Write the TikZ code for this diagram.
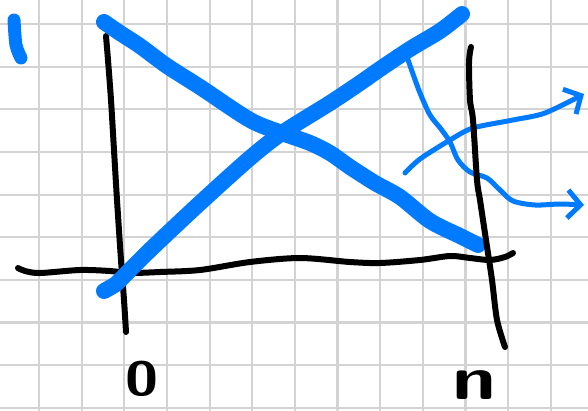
\documentclass[tikz,border=0pt]{standalone}
\usepackage{xcolor}
\usepackage{tikz}
\usetikzlibrary{arrows.meta}
\definecolor{penblue}{RGB}{0,122,255}
\definecolor{gridgray}{RGB}{211,211,211}

\begin{document}
\begin{tikzpicture}[x=1pt, y=-1pt, line cap=round, line join=round,
  gridline/.style={gridgray, line width=2.2pt},
  axisline/.style={black, line width=6pt},
  thickpen/.style={penblue, line width=16pt},
  thinpen/.style={penblue, line width=5pt, -{Straight Barb[length=13pt, width=28pt]}},
  handlabel/.style={font=\sffamily\bfseries, inner sep=0pt}]
  \useasboundingbox (0,0) rectangle (588,410);
  \clip (0,0) rectangle (588,410);
  % 方格纸
  \foreach \i in {0,...,12}
    \draw[gridline] ({39+42.65*\i},0) -- ++(0,410);
  \foreach \j in {0,...,9}
    \draw[gridline] (0,{24+42.65*\j}) -- ++(588,0);
  % 左边的竖线与横轴
  \draw[axisline] plot[smooth] coordinates {(106,36) (108,60) (111,100) (114,150) (117,200) (121,260) (124,300) (126,332)};
  \draw[axisline] plot[smooth] coordinates {(18,268) (25,271) (40,273) (80,270) (110,271) (130,273) (160,272) (200,270) (250,262) (300,258) (350,262) (380,263) (420,260) (450,256) (470,258) (490,260) (505,257) (513,253)};
  % 两条粗线
  \draw[thickpen] plot[smooth] coordinates {(104,22) (120,33) (140,46) (167,66) (200,87) (250,120) (282,133) (310,143) (330,153) (350,167) (375,183) (400,197) (430,221) (460,236) (478,245)};
  \draw[thickpen] plot[smooth] coordinates {(104,291) (116,284) (125,275) (150,250) (200,203) (250,158) (282,133) (330,103) (360,83) (380,69) (410,49) (440,31) (462,14)};
  % 左上角的记号
  \draw[thickpen, line width=13pt] plot[smooth] coordinates {(14,20) (16,45) (21,58)};
  % 两支细箭头
  \draw[thinpen] plot[smooth] coordinates {(405,173) (420,159) (450,140) (473,128) (513,120) (545,113) (584,94)};
  \draw[thinpen] plot[smooth] coordinates {(407,57) (413,74) (420,93) (430,115) (441,129) (450,142) (458,160) (470,172) (487,178) (500,190) (513,201) (535,205) (560,204) (584,205)};
  % 右边的竖线
  \draw[axisline] plot[smooth] coordinates {(471,47) (469,62) (470,100) (473,120) (477,180) (480,200) (486,240) (492,280) (497,320) (505,347)};
  % 标注
  \node[handlabel, font=\sffamily\bfseries\fontsize{48}{48}\selectfont, xscale=1.25] (zero) at (142,379) {0};
  \node[handlabel, font=\sffamily\bfseries\fontsize{56}{56}\selectfont, xscale=1.4, yscale=1.1] (en) at (474,385) {n};
\end{tikzpicture}
\end{document}
